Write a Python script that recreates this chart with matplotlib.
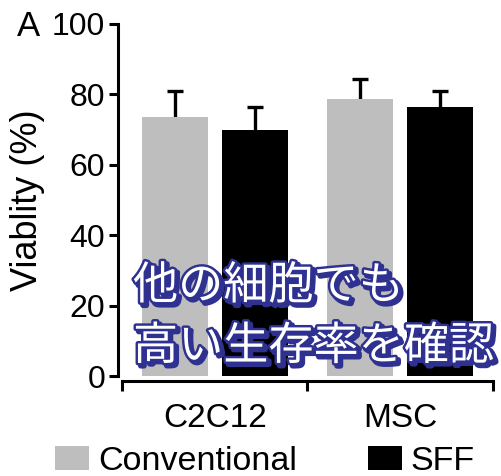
import matplotlib
matplotlib.use('Agg')
import matplotlib.pyplot as plt
import matplotlib.patheffects as pe
from matplotlib.patches import Patch
import numpy as np

# Viability of each cell type for the two culture methods
cell_types = ['C2C12', 'MSC']
series = ['Conventional', 'SFF']
viability = {'Conventional': [73.5, 78.7], 'SFF': [70.0, 76.5]}
sd = {'Conventional': [7.5, 5.8], 'SFF': [6.5, 4.6]}
colors = {'Conventional': '#bebebe', 'SFF': '#000000'}
y_ticks = [0, 20, 40, 60, 80, 100]
overlay = '他の細胞でも\n高い生存率を確認'

plt.rcParams['font.family'] = ['Liberation Sans', 'DejaVu Sans']

fig = plt.figure(figsize=(5.02, 4.76), dpi=100)
ax = fig.add_axes([122 / 502, 100 / 476, 371 / 502, 352 / 476])

centers = np.arange(len(cell_types)) + 0.5
offsets = {'Conventional': -0.215, 'SFF': 0.215}
for name in series:
    # bars sit on top of symmetric error bars so only the upper half shows
    ax.bar(centers + offsets[name], viability[name], width=0.355,
           color=colors[name], zorder=3)
    ax.errorbar(centers + offsets[name], viability[name], yerr=sd[name],
                fmt='none', ecolor='black', elinewidth=2.4,
                capsize=5.5, capthick=2.4, zorder=2)

ax.set_xlim(0, 2)
ax.set_ylim(0, 100)
ax.set_yticks(y_ticks)
ax.set_xticks([0, 1, 2])
ax.set_xticklabels([])
ax.set_xticks(centers, minor=True)
ax.set_xticklabels(cell_types, minor=True)
ax.tick_params(axis='x', which='minor', length=0, labelsize=24, pad=16)
ax.tick_params(axis='x', which='major', length=7, width=2.2, direction='out')
ax.tick_params(axis='y', length=6.5, width=2.2, labelsize=23, pad=2.5)

for side in ['top', 'right']:
    ax.spines[side].set_visible(False)
for side in ['left', 'bottom']:
    ax.spines[side].set_linewidth(2.2)
ax.spines['left'].set_position(('outward', 3))
ax.spines['bottom'].set_position(('outward', 3.5))

ax.set_ylabel('Viablity (%)', fontsize=26, labelpad=5)

fig.text(17 / 502, 1 - 36 / 476, 'A', fontsize=25)

handles = [Patch(facecolor=colors[n], edgecolor='none') for n in series]
fig.legend(handles, series, loc='lower center', ncol=2, frameon=False,
           fontsize=24.5, handlelength=1.0, handleheight=0.7,
           handletextpad=0.25, columnspacing=2.1,
           bbox_to_anchor=(0.528, -0.066))

# Japanese caption with navy outline and drop shadow
navy = '#2e3190'
fig.text(133 / 502, 1 - 263 / 476, overlay, fontsize=32.5, color='white',
         va='top', ha='left', linespacing=1.4,
         family=['Noto Sans CJK JP', 'DejaVu Sans'], zorder=10,
         path_effects=[pe.Stroke(linewidth=4, foreground=navy, offset=(2, -2)),
                       pe.Stroke(linewidth=3.5, foreground=navy),
                       pe.Normal()])

fig.savefig('out.png', dpi=100)
